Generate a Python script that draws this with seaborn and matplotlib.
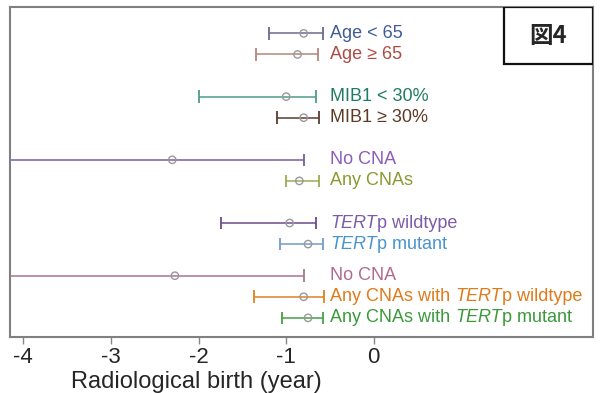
import numpy as np
import pandas as pd
import matplotlib
matplotlib.use("Agg")
import matplotlib.pyplot as plt
import seaborn as sns

# =====================================
# Data
# =====================================

labels = [
    "Age < 65", "Age ≥ 65",
    "MIB1 < 30%", "MIB1 ≥ 30%",
    "No CNA", "Any CNAs",
    "TERTp wildtype", "TERTp mutant",
    "No CNA", "Any CNAs with TERTp wildtype", "Any CNAs with TERTp mutant",
]
rows = [0, 1, 3, 4, 6, 7, 9, 10, 11.5, 12.5, 13.5]
estimate = [-0.80, -0.87, -1.00, -0.80, -2.30, -0.85, -0.96, -0.75, -2.27, -0.80, -0.75]
lower = [-1.20, -1.34, -2.00, -1.11, -4.60, -1.00, -1.74, -1.07, -4.60, -1.37, -1.05]
upper = [-0.58, -0.64, -0.66, -0.63, -0.80, -0.63, -0.66, -0.58, -0.80, -0.57, -0.58]
has_cap = [True, True, True, True, False, True, True, True, False, True, True]

line_colors = ["#6b6b8c", "#b5857a", "#4d9c8a", "#5c3c30", "#7c5c9c", "#9aab55",
               "#6c4c8c", "#6f9cc9", "#a87595", "#e0801f", "#45a045"]
text_colors = ["#3f5c98", "#b04a42", "#1f7c60", "#5c3a26", "#8c5cb8", "#8a9a30",
               "#7c5caa", "#4a94cc", "#b06a92", "#e07a1a", "#3a9a3a"]

df = pd.DataFrame({"label": labels, "row": rows, "est": estimate,
                   "lo": lower, "hi": upper})

# =====================================
# Plot
# =====================================

sns.set_style("white")
plt.rcParams["font.family"] = ["Liberation Sans Narrow", "Liberation Sans", "DejaVu Sans"]

fig, ax = plt.subplots(figsize=(6, 3.93), dpi=100)
fig.subplots_adjust(left=0.017, right=0.988, top=0.982, bottom=0.143)

for i, r in df.iterrows():
    c = line_colors[i]
    ax.hlines(r["row"], r["lo"], r["hi"], color=c, lw=1.1)
    caps = [r["lo"], r["hi"]] if has_cap[i] else [r["hi"]]
    ax.vlines(caps, r["row"] - 0.3, r["row"] + 0.3, color=c, lw=1.3)

sns.scatterplot(data=df, x="est", y="row", ax=ax, s=28, marker="o",
                facecolor="none", edgecolor="#999999", linewidth=1.0, zorder=3)

# labels, with TERT in italics
fs = 13
for i, r in df.iterrows():
    lab = r["label"]
    c = text_colors[i]
    if "TERTp" in lab:
        pre, post = lab.split("TERTp")
        parts = [(pre, "normal"), ("TERT", "italic"), ("p" + post, "normal")]
        parts = [p for p in parts if p[0]]
        t = ax.text(-0.5, r["row"], parts[0][0], color=c, fontsize=fs,
                    va="center", ha="left", style=parts[0][1])
        for txt, st in parts[1:]:
            t = ax.annotate(txt, xycoords=t, xy=(1, 0), va="bottom", ha="left",
                            color=c, fontsize=fs, style=st)
    else:
        ax.text(-0.5, r["row"], lab, color=c, fontsize=fs, va="center", ha="left")

ax.set_xlim(-4.15, 2.5)
ax.set_ylim(14.4, -1.25)
ax.set_xticks([-4, -3, -2, -1, 0])
ax.set_xticklabels(["-4", "-3", "-2", "-1", "0"])
ax.set_yticks([])
ax.set_ylabel("")
ax.set_xlabel("Radiological birth (year)", fontsize=17,
              family=["Liberation Sans", "DejaVu Sans"])
ax.xaxis.set_label_coords(0.32, -0.105)
ax.tick_params(axis="x", labelsize=16, length=5, width=1, color="#888888",
               direction="out", bottom=True, pad=2)
for lbl in ax.get_xticklabels():
    lbl.set_family(["Liberation Sans", "DejaVu Sans"])
for s in ax.spines.values():
    s.set_color("#808080")
    s.set_linewidth(1.5)

# figure tag box in the top-right corner
ax.add_patch(plt.Rectangle((0.847, 0.827), 0.153, 0.173, transform=ax.transAxes,
                           facecolor="white", edgecolor="#111111", lw=1.6, zorder=4))
ax.text(0.923, 0.913, "図4", transform=ax.transAxes, fontsize=17, fontweight="bold",
        ha="center", va="center", zorder=5,
        family=["Noto Sans CJK JP", "DejaVu Sans"])

plt.savefig("out.png", dpi=100)
plt.close()
